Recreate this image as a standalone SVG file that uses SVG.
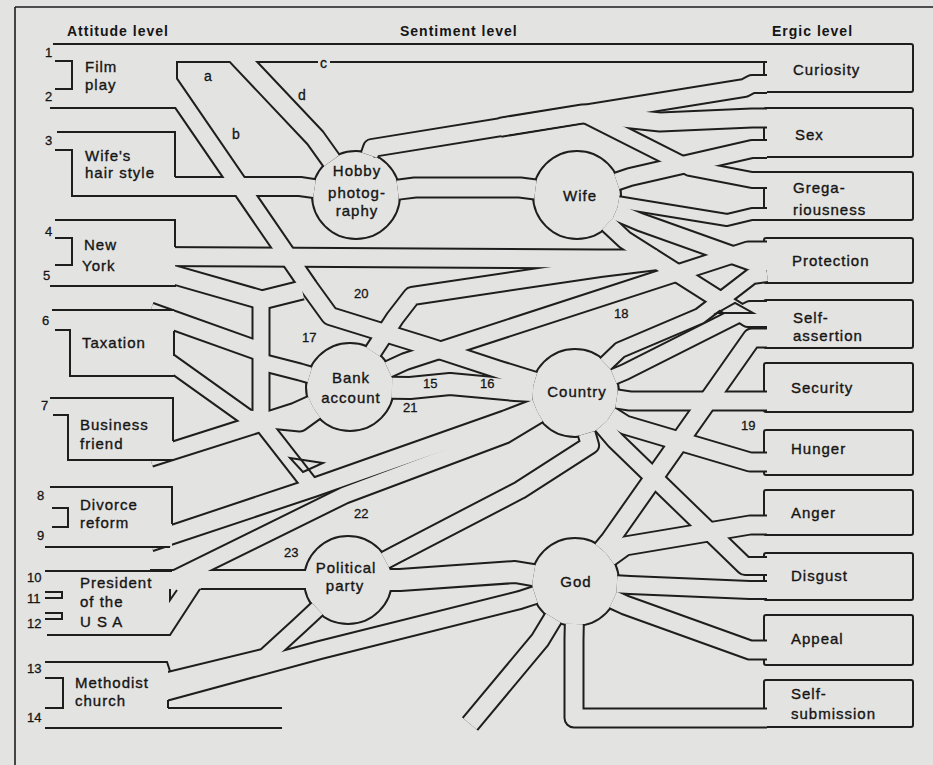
<svg xmlns="http://www.w3.org/2000/svg" width="933" height="765" viewBox="0 0 933 765">
<style>
.bg{fill:#e3e3e1}
.cas{fill:none;stroke:#1e1e1e;stroke-linejoin:round;stroke-linecap:butt}
.core{fill:none;stroke:#e3e3e1;stroke-linejoin:round;stroke-linecap:butt}
.node{fill:#e3e3e1;stroke:#1e1e1e;stroke-width:2}
.ln{fill:none;stroke:#1e1e1e;stroke-width:2;stroke-linejoin:miter}
.fill{fill:#e3e3e1;stroke:none}
.t{font-family:"Liberation Sans",Arial,sans-serif;font-size:15px;letter-spacing:1px;fill:#151515;stroke:#151515;stroke-width:0.35}
.h{font-family:"Liberation Sans",Arial,sans-serif;font-size:14px;font-weight:bold;letter-spacing:1px;fill:#151515}
.n{font-family:"Liberation Sans",Arial,sans-serif;font-size:13px;fill:#151515;stroke:#151515;stroke-width:0.3}
.m{text-anchor:middle}
</style>
<defs>
<path id="r-c" d="M150,53 H767"/>
<path id="r-d" d="M236,54 L315,137.6 L331.6,160.8"/>
<path id="r-b" d="M165,77 L309,287 L330,316 L430,347 L500,370 L534.8,380.7"/>
<path id="r-whs" d="M150,186.5 L300,186.5 L314.5,188.7"/>
<path id="r-hw" d="M397.7,189.7 L415,187.5 L520,187.5 L535.4,189.5"/>
<path id="r-hc" d="M369.5,155.2 L372,148 L745,87.8 L752,84 L767,84"/>
<path id="r-hs" d="M500,127.3 L583,113.9 L660,122 L752,118 L767,118"/>
<path id="r-hg" d="M500,127.3 L583,113.9 L690,168 L752,180 L767,180"/>
<path id="r-ws" d="M616.7,181.5 L630,177 L752,149 L767,149"/>
<path id="r-wg" d="M618.4,202.1 L635,205 L727,220 L752,214 L767,214"/>
<path id="r-wp" d="M615.6,211.6 L640,222 L752,262 L767,262"/>
<path id="r-wsa" d="M607.6,223.7 L625,240 L748,318 L767,318"/>
<path id="r-bp" d="M388.1,369.4 L405,361.6 L748,250 L767,250"/>
<path id="r-ny" d="M150,256.5 L600,259 L657,259"/>
<path id="r-20" d="M372.9,351.8 L395,318 L412,296 L600,268 L657,261"/>
<path id="r-cp" d="M605.4,364 L620,350 L700,316 L752,276 L767,274"/>
<path id="r-nyl" d="M150,268 L262,300 L302,290"/>
<path id="r-v" d="M261,296 L261,422 L314,490"/>
<path id="r-tu" d="M150,312 L262,352"/>
<path id="r-tl" d="M150,348 L248,418 L300,423 L315.9,411.5"/>
<path id="r-vb" d="M261,362 L300,372 L309.8,374.9"/>
<path id="r-bus" d="M150,458 L295,411.9 L311.7,404.3"/>
<path id="r-bc" d="M392,387.7 L410,388 L450,384 L515,390 L533,390.9"/>
<path id="r-dc" d="M150,542 L315,487 L505,420 L535.8,408.1"/>
<path id="r-pc23" d="M150,591 L345,495 L505,435 L539,414.6"/>
<path id="r-pcc" d="M385.1,560.3 L395,555 L520,490 L590,445 L586.6,433.4"/>
<path id="r-pp" d="M150,579.5 L306,579.6"/>
<path id="r-mp" d="M150,685 L265,657 L300,625 L317.4,608.7"/>
<path id="r-mg" d="M150,696 L320,650 L520,600 L535.1,595.1"/>
<path id="r-pg" d="M390,580 L400,580 L515,572 L533.6,575.1"/>
<path id="r-ml" d="M150,718 H282"/>
<path id="r-gsa" d="M601.9,549.7 L610,540 L752,338 L767,338"/>
<path id="r-ga" d="M609.1,557.5 L625,546 L750,525 L767,525"/>
<path id="r-gd" d="M616.9,584.3 L630,585 L750,590 L767,590"/>
<path id="r-gap" d="M613.2,599.6 L625,605 L750,650 L767,650"/>
<path id="r-gss" d="M574.3,624 L574,640 L574,718 L767,718"/>
<path id="r-gdn" d="M553.3,618 L540,640 L470,724"/>
<path id="r-cs" d="M616.6,399 L630,401 L767,401"/>
<path id="r-ch" d="M610.4,415.6 L625,425 L750,462 L767,462"/>
<path id="r-cd" d="M602.2,425 L615,440 L745,566 L767,566"/>
<path id="r-csa" d="M613.7,376.7 L625,372 L750,309 L767,309"/>
</defs>
<rect class="bg" x="0" y="0" width="933" height="765"/>
<g id="frame">
<path class="ln" d="M15,7 H933 M15,7 V765" style="stroke-width:1.6"/>
<text class="h" x="67" y="36">Attitude level</text>
<text class="h" x="400" y="36">Sentiment level</text>
<text class="h" x="772" y="36">Ergic level</text>
</g>
<g id="node-hobby"><circle class="node" cx="356" cy="195" r="44"/><text class="t m" x="357" y="176">Hobby</text><text class="t m" x="357" y="198">photog-</text><text class="t m" x="357" y="216">raphy</text></g>
<g id="node-wife"><circle class="node" cx="577" cy="195" r="44"/><text class="t m" x="580" y="201">Wife</text></g>
<g id="node-bank"><circle class="node" cx="350" cy="387" r="44"/><text class="t m" x="351" y="383">Bank</text><text class="t m" x="351" y="403">account</text></g>
<g id="node-country"><circle class="node" cx="575" cy="393" r="44"/><text class="t m" x="577" y="397">Country</text></g>
<g id="node-political"><circle class="node" cx="348" cy="580" r="44"/><text class="t m" x="346" y="573">Political</text><text class="t m" x="345" y="591">party</text></g>
<g id="node-god"><circle class="node" cx="575" cy="582" r="44"/><text class="t m" x="576" y="587">God</text></g>
<g id="node-curiosity"><rect class="node" x="764" y="44" width="149" height="48" rx="2"/><text class="t" x="793" y="75">Curiosity</text></g>
<g id="node-sex"><rect class="node" x="764" y="108" width="149" height="49" rx="2"/><text class="t" x="795" y="140">Sex</text></g>
<g id="node-gregariousness"><rect class="node" x="764" y="172" width="149" height="48" rx="2"/><text class="t" x="793" y="193">Grega-</text><text class="t" x="793" y="215">riousness</text></g>
<g id="node-protection"><rect class="node" x="764" y="238" width="149" height="45" rx="2"/><text class="t" x="792" y="266">Protection</text></g>
<g id="node-self-assertion"><rect class="node" x="764" y="300" width="149" height="48" rx="2"/><text class="t" x="793" y="323">Self-</text><text class="t" x="793" y="341">assertion</text></g>
<g id="node-security"><rect class="node" x="764" y="363" width="149" height="49" rx="2"/><text class="t" x="791" y="393">Security</text></g>
<g id="node-hunger"><rect class="node" x="764" y="430" width="149" height="45" rx="2"/><text class="t" x="791" y="454">Hunger</text></g>
<g id="node-anger"><rect class="node" x="764" y="490" width="149" height="45" rx="2"/><text class="t" x="791" y="518">Anger</text></g>
<g id="node-disgust"><rect class="node" x="764" y="553" width="149" height="47" rx="2"/><text class="t" x="791" y="581">Disgust</text></g>
<g id="node-appeal"><rect class="node" x="764" y="615" width="149" height="50" rx="2"/><text class="t" x="791" y="644">Appeal</text></g>
<g id="node-self-submission"><rect class="node" x="764" y="680" width="149" height="47" rx="2"/><text class="t" x="791" y="699">Self-</text><text class="t" x="791" y="719">submission</text></g>
<g id="connectors">
<g id="casing">
<use href="#r-c" class="cas" style="stroke-width:20"/>
<use href="#r-d" class="cas" style="stroke-width:22"/>
<use href="#r-b" class="cas" style="stroke-width:20"/>
<use href="#r-whs" class="cas" style="stroke-width:21"/>
<use href="#r-hw" class="cas" style="stroke-width:22"/>
<use href="#r-hc" class="cas" style="stroke-width:20"/>
<use href="#r-hs" class="cas" style="stroke-width:21"/>
<use href="#r-hg" class="cas" style="stroke-width:18"/>
<use href="#r-ws" class="cas" style="stroke-width:20"/>
<use href="#r-wg" class="cas" style="stroke-width:14"/>
<use href="#r-wp" class="cas" style="stroke-width:20"/>
<use href="#r-wsa" class="cas" style="stroke-width:20"/>
<use href="#r-bp" class="cas" style="stroke-width:19"/>
<use href="#r-ny" class="cas" style="stroke-width:21"/>
<use href="#r-20" class="cas" style="stroke-width:20"/>
<use href="#r-cp" class="cas" style="stroke-width:18"/>
<use href="#r-nyl" class="cas" style="stroke-width:21"/>
<use href="#r-v" class="cas" style="stroke-width:19"/>
<use href="#r-tu" class="cas" style="stroke-width:21"/>
<use href="#r-tl" class="cas" style="stroke-width:19"/>
<use href="#r-vb" class="cas" style="stroke-width:19"/>
<use href="#r-bus" class="cas" style="stroke-width:20"/>
<use href="#r-bc" class="cas" style="stroke-width:24"/>
<use href="#r-dc" class="cas" style="stroke-width:21"/>
<use href="#r-pc23" class="cas" style="stroke-width:19"/>
<use href="#r-pcc" class="cas" style="stroke-width:20"/>
<use href="#r-pp" class="cas" style="stroke-width:21"/>
<use href="#r-mp" class="cas" style="stroke-width:19"/>
<use href="#r-mg" class="cas" style="stroke-width:20"/>
<use href="#r-pg" class="cas" style="stroke-width:24"/>
<use href="#r-ml" class="cas" style="stroke-width:22"/>
<use href="#r-gsa" class="cas" style="stroke-width:21"/>
<use href="#r-ga" class="cas" style="stroke-width:21"/>
<use href="#r-gd" class="cas" style="stroke-width:20"/>
<use href="#r-gap" class="cas" style="stroke-width:21"/>
<use href="#r-gss" class="cas" style="stroke-width:21"/>
<use href="#r-gdn" class="cas" style="stroke-width:21"/>
<use href="#r-cs" class="cas" style="stroke-width:21"/>
<use href="#r-ch" class="cas" style="stroke-width:21"/>
<use href="#r-cd" class="cas" style="stroke-width:20"/>
<use href="#r-csa" class="cas" style="stroke-width:18"/>
</g>
<g id="core">
<use href="#r-c" class="core" style="stroke-width:16"/>
<use href="#r-d" class="core" style="stroke-width:18"/>
<use href="#r-b" class="core" style="stroke-width:16"/>
<use href="#r-whs" class="core" style="stroke-width:17"/>
<use href="#r-hw" class="core" style="stroke-width:18"/>
<use href="#r-hc" class="core" style="stroke-width:16"/>
<use href="#r-hs" class="core" style="stroke-width:17"/>
<use href="#r-hg" class="core" style="stroke-width:14"/>
<use href="#r-ws" class="core" style="stroke-width:16"/>
<use href="#r-wg" class="core" style="stroke-width:10"/>
<use href="#r-wp" class="core" style="stroke-width:16"/>
<use href="#r-wsa" class="core" style="stroke-width:16"/>
<use href="#r-bp" class="core" style="stroke-width:15"/>
<use href="#r-ny" class="core" style="stroke-width:17"/>
<use href="#r-20" class="core" style="stroke-width:16"/>
<use href="#r-cp" class="core" style="stroke-width:14"/>
<use href="#r-nyl" class="core" style="stroke-width:17"/>
<use href="#r-v" class="core" style="stroke-width:15"/>
<use href="#r-tu" class="core" style="stroke-width:17"/>
<use href="#r-tl" class="core" style="stroke-width:15"/>
<use href="#r-vb" class="core" style="stroke-width:15"/>
<use href="#r-bus" class="core" style="stroke-width:16"/>
<use href="#r-bc" class="core" style="stroke-width:20"/>
<use href="#r-dc" class="core" style="stroke-width:17"/>
<use href="#r-pc23" class="core" style="stroke-width:15"/>
<use href="#r-pcc" class="core" style="stroke-width:16"/>
<use href="#r-pp" class="core" style="stroke-width:17"/>
<use href="#r-mp" class="core" style="stroke-width:15"/>
<use href="#r-mg" class="core" style="stroke-width:16"/>
<use href="#r-pg" class="core" style="stroke-width:20"/>
<use href="#r-ml" class="core" style="stroke-width:18"/>
<use href="#r-gsa" class="core" style="stroke-width:17"/>
<use href="#r-ga" class="core" style="stroke-width:17"/>
<use href="#r-gd" class="core" style="stroke-width:16"/>
<use href="#r-gap" class="core" style="stroke-width:17"/>
<use href="#r-gss" class="core" style="stroke-width:17"/>
<use href="#r-gdn" class="core" style="stroke-width:17"/>
<use href="#r-cs" class="core" style="stroke-width:17"/>
<use href="#r-ch" class="core" style="stroke-width:17"/>
<use href="#r-cd" class="core" style="stroke-width:16"/>
<use href="#r-csa" class="core" style="stroke-width:14"/>
</g>
<g id="islands">
<path class="ln" d="M717,313 L735,303 L753,313 Z"/>
<path class="ln" d="M290,458 L323,463 L303,472 Z"/>
</g>
<g id="channel-labels">
<rect class="fill" x="318" y="58" width="12" height="9"/>
<text class="n" x="204" y="81" style="font-size:14px">a</text>
<text class="n" x="232" y="139" style="font-size:14px">b</text>
<text class="n" x="320" y="68" style="font-size:14px">c</text>
<text class="n" x="298" y="100" style="font-size:14px">d</text>
<text class="n" x="354" y="298">20</text>
<text class="n" x="302" y="342">17</text>
<text class="n" x="614" y="318">18</text>
<text class="n" x="423" y="388">15</text>
<text class="n" x="480" y="388">16</text>
<text class="n" x="403" y="412">21</text>
<text class="n" x="741" y="430">19</text>
<text class="n" x="354" y="518">22</text>
<text class="n" x="284" y="557">23</text>
</g>
</g>
<g id="node-film-play">
<rect class="fill" x="40" y="45" width="136" height="62"/>
<path class="ln" d="M53,44 H176 M50,108 H175 M55,61 H72 V89 H55 M177,62 V78"/>
<text class="n" x="45" y="57">1</text><text class="n" x="45" y="101">2</text>
<text class="t" x="85" y="72">Film</text><text class="t" x="85" y="90">play</text>
</g>
<g id="node-wifes-hair-style">
<rect class="fill" x="50" y="133" width="125" height="62"/>
<path class="ln" d="M57,132 H175 V177 M55,150 H72 V196 H176"/>
<text class="n" x="45" y="145">3</text>
<text class="t" x="85" y="161">Wife's</text><text class="t" x="85" y="178">hair style</text>
</g>
<g id="node-new-york">
<rect class="fill" x="45" y="221" width="130" height="64"/>
<path class="ln" d="M55,220 H175 V247 M55,238 H72 V265 H55 M50,286 H176"/>
<text class="n" x="45" y="236">4</text><text class="n" x="43" y="280">5</text>
<text class="t" x="84" y="250">New</text><text class="t" x="82" y="271">York</text>
</g>
<g id="node-taxation">
<rect class="fill" x="45" y="311" width="129" height="64"/>
<path class="ln" d="M52,310 H174 M174,331 V356 M55,330 H70 V376 H174"/>
<text class="n" x="42" y="325">6</text>
<text class="t" x="82" y="348">Taxation</text>
</g>
<g id="node-business-friend">
<rect class="fill" x="45" y="399" width="128" height="60"/>
<path class="ln" d="M50,398 H173 V441 M53,415 H68 V460 H174"/>
<text class="n" x="41" y="410">7</text>
<text class="t" x="80" y="430">Business</text><text class="t" x="80" y="449">friend</text>
</g>
<g id="node-divorce-reform">
<rect class="fill" x="40" y="488" width="132" height="58"/>
<path class="ln" d="M50,487 H172 V524 M45,547 H170 M52,508 H68 V527 H52"/>
<text class="n" x="37" y="500">8</text><text class="n" x="37" y="540">9</text>
<text class="t" x="80" y="510">Divorce</text><text class="t" x="80" y="528">reform</text>
</g>
<g id="node-president">
<rect class="fill" x="40" y="572" width="130" height="62"/>
<polygon class="fill" points="169,588 201,588 169,636"/>
<path class="ln" d="M45,571 H172 M47,635 H170 L200,589 M45,592 H62 V598 H45 M45,613 H62 V619 H45 M170,589 V600 L177,590"/>
<text class="n" x="27" y="582">10</text><text class="n" x="27" y="603">11</text><text class="n" x="27" y="628">12</text>
<text class="t" x="80" y="588">President</text><text class="t" x="80" y="607">of the</text><text class="t" x="80" y="627">U S A</text>
</g>
<g id="node-methodist-church">
<rect class="fill" x="40" y="663" width="128" height="64"/>
<path class="ln" d="M45,662 H167 L170,671 M45,728 H168 M168,700 V708 M45,678 H63 V708 H45"/>
<text class="n" x="27" y="673">13</text><text class="n" x="27" y="722">14</text>
<text class="t" x="75" y="688">Methodist</text><text class="t" x="75" y="706">church</text>
</g>
</svg>
